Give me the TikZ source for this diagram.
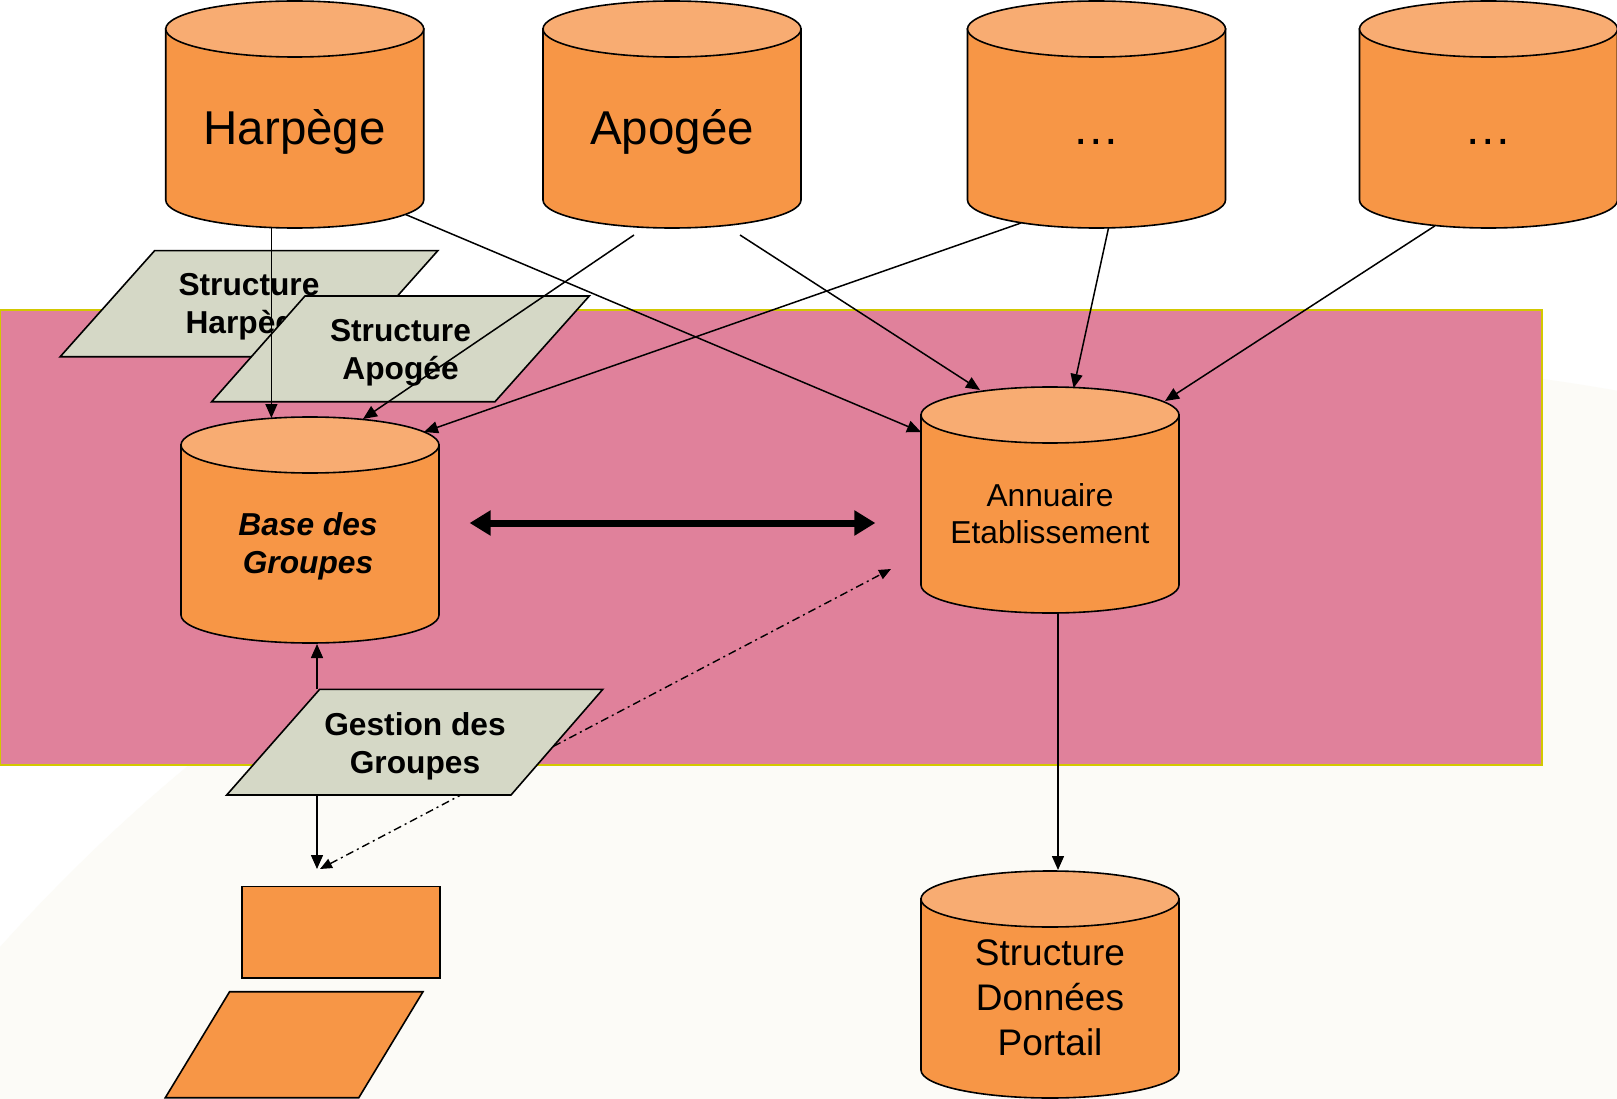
\documentclass[tikz,border=0pt]{standalone}
\usepackage{fontspec}
\setmainfont{Liberation Sans}
\usetikzlibrary{arrows.meta}
\definecolor{cylbodyc}{HTML}{F79646}
\definecolor{cyltopc}{HTML}{F8AC72}
\definecolor{parac}{HTML}{D5D8C6}
\definecolor{pinkc}{HTML}{E0819B}
\definecolor{bordc}{HTML}{D2C800}
\definecolor{offwhite}{HTML}{FCFBF7}
\newcommand{\dbcyl}[3]{%
  \filldraw[cylbody] ({#1-129},#2) -- ({#1-129},#3)
     arc[start angle=180,end angle=360,x radius=129pt,y radius=28pt]
     -- ({#1+129},#2) -- cycle;
  \filldraw[cyltop] (#1,#2) ellipse[x radius=129pt,y radius=28pt];
}
\begin{document}
\begin{tikzpicture}[x=1pt,y=-1pt,
  cylbody/.style={fill=cylbodyc,draw=black,line width=1.6pt},
  cyltop/.style={fill=cyltopc,draw=black,line width=1.6pt},
  parashape/.style={fill=parac,draw=black,line width=1.6pt,line join=miter},
  orangeshape/.style={fill=cylbodyc,draw=black,line width=1.6pt},
  bigtxt/.style={font=\fontsize{47.5}{57}\selectfont,inner sep=0pt,anchor=base},
  boldtxt/.style={font=\fontsize{31.7}{38}\selectfont\bfseries,align=center,inner sep=0pt,anchor=base},
  midtxt/.style={font=\fontsize{31.7}{37}\selectfont,align=center,inner sep=0pt,anchor=base},
  porttxt/.style={font=\fontsize{37}{45}\selectfont,align=center,inner sep=0pt,anchor=base},
  conn/.style={line width=1.5pt,-{Triangle[length=14pt,width=12pt]}},
  thickconn/.style={line width=7pt,{Triangle[length=21pt,width=24pt]}-{Triangle[length=21pt,width=24pt]}},
  dashconn/.style={line width=1.4pt,dash pattern=on 8pt off 4pt on 2pt off 4pt,
     {Triangle[length=12pt,width=10pt]}-{Triangle[length=12pt,width=10pt]}}
]
\useasboundingbox (0,0) rectangle (1617,1099);
% background
\fill[white] (0,0) rectangle (1617,1099);
\begin{scope}
  \clip (0,0) rectangle (1617,1099);
  \fill[offwhite] (1305,2113) circle[radius=1750pt];
\end{scope}
% pink zone
\filldraw[fill=pinkc,draw=bordc,line width=2.5pt] (0,310) rectangle (1542,765);

% top sources
\dbcyl{294.75}{29}{200}
\node[bigtxt] (harp) at (294.75,145) {Harpège};
\dbcyl{672}{29}{200}
\node[bigtxt] (apo) at (672,145) {Apogée};
\dbcyl{1096.5}{29}{200}
\node[bigtxt] (dotsA) at (1096.5,145) {…};
\dbcyl{1488.5}{29}{200}
\node[bigtxt] (dotsB) at (1488.5,145) {…};

% middle stores
\dbcyl{310}{445}{615}
\node[boldtxt,font=\fontsize{31.7}{38}\selectfont\bfseries\itshape] (base) at (308,573) {Base des\\Groupes};
\dbcyl{1050}{415}{585}
\node[midtxt] (annu) at (1050,543) {Annuaire\\Etablissement};
\dbcyl{1050}{899}{1070}
\node[porttxt] (portail) at (1050,1055) {Structure\\Données\\Portail};

% bottom blank shapes
\node[orangeshape,minimum width=198pt,minimum height=91.6pt,inner sep=0pt,anchor=north west] (blankrect) at (241,885.7) {};
\filldraw[orangeshape] (229.6,991.7) -- (423,991.7) -- (358.8,1097.7) -- (165.3,1097.7) -- cycle;

% structure parallelograms
\filldraw[parashape] (154.6,250.7) -- (437.8,250.7) -- (343.4,356.7) -- (60.2,356.7) -- cycle;
\node[boldtxt] (sharp) at (249,334) {Structure\\Harpège};
\filldraw[parashape] (305,296) -- (589.3,296) -- (495,401.7) -- (211.7,401.7) -- cycle;
\node[boldtxt] (sapo) at (400.5,379) {Structure\\Apogée};

% connector end points
\coordinate (harpS) at (271.4,227.5);
\coordinate (baseN1) at (271.4,418);
\coordinate (harpSE) at (405.6,214.5);
\coordinate (annuW) at (921,432);
\coordinate (apoS1) at (634,235);
\coordinate (baseN2) at (363,419);
\coordinate (apoS2) at (740,235);
\coordinate (annuN1) at (980,390);
\coordinate (dotsAS1) at (1021,223);
\coordinate (baseN3) at (424,432);
\coordinate (dotsAS2) at (1108.5,228);
\coordinate (annuN2) at (1073.6,388);
\coordinate (dotsBS) at (1434.7,226);
\coordinate (annuN3) at (1165,401);
\coordinate (bidirL) at (469.6,523);
\coordinate (bidirR) at (875.4,523);
\coordinate (gestN) at (317,689.3);
\coordinate (baseS) at (317,644);
\coordinate (gestS) at (317,795);
\coordinate (rectN) at (317,869);
\coordinate (dashLow) at (320,869);
\coordinate (dashHigh) at (891,569);
\coordinate (annuS) at (1058,613);
\coordinate (portN) at (1058,870);

% dash-dot link (behind Gestion)
\draw[dashconn] (dashLow) -- (dashHigh);

% gestion
\filldraw[parashape] (319.7,689.3) -- (602.8,689.3) -- (511,795) -- (226.7,795) -- cycle;
\node[boldtxt] (gest) at (415,773) {Gestion des\\Groupes};

% connectors
\draw[conn] (harpS) -- (baseN1);
\draw[conn] (harpSE) -- (annuW);
\draw[conn] (apoS1) -- (baseN2);
\draw[conn] (apoS2) -- (annuN1);
\draw[conn] (dotsAS1) -- (baseN3);
\draw[conn] (dotsAS2) -- (annuN2);
\draw[conn] (dotsBS) -- (annuN3);
\draw[thickconn] (bidirL) -- (bidirR);
\draw[conn] (gestN) -- (baseS);
\draw[conn] (gestS) -- (rectN);
\draw[conn] (annuS) -- (portN);
\end{tikzpicture}
\end{document}
